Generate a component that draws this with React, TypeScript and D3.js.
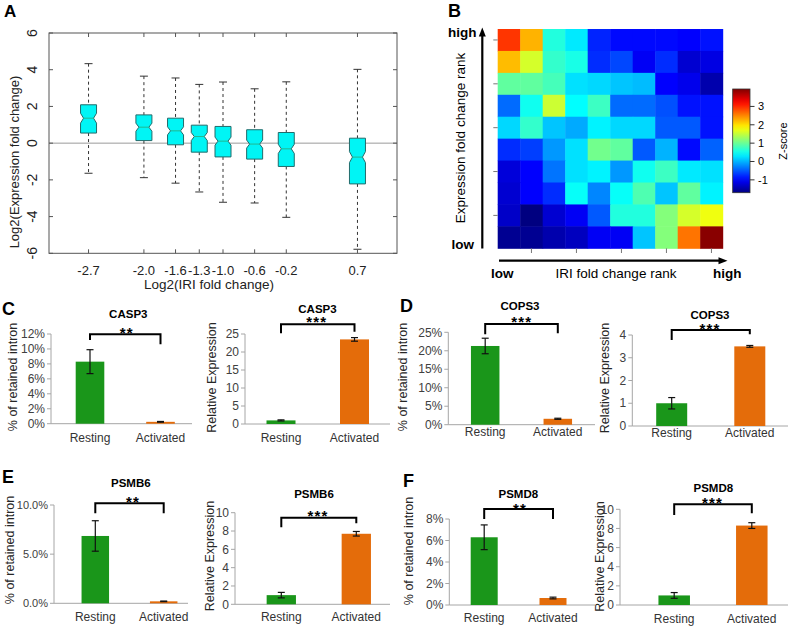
import React from "react";
import * as d3 from "d3";

const FONT = "'Liberation Sans', Arial, Helvetica, sans-serif";

// ---------- Panel A data ----------
const iriLabels = ["-2.7", "-2.0", "-1.6", "-1.3", "-1.0", "-0.6", "-0.2", "0.7"];
const iriValues = [-2.7, -2.0, -1.6, -1.3, -1.0, -0.6, -0.2, 0.7];
const whiskerLow = [-1.64, -1.88, -2.18, -2.66, -3.22, -3.26, -4.04, -5.78];
const boxQ1 = [0.55, 0.14, -0.09, -0.49, -0.75, -0.87, -1.27, -2.22];
const boxMedian = [1.36, 0.87, 0.67, 0.36, 0.11, -0.05, -0.31, -0.76];
const boxQ3 = [2.09, 1.54, 1.36, 0.98, 0.91, 0.73, 0.58, 0.27];
const whiskerHigh = [4.33, 3.65, 3.55, 3.2, 3.33, 2.96, 3.34, 4.02];
const notchHalf = [0.27, 0.22, 0.22, 0.22, 0.22, 0.22, 0.25, 0.3];
const exprTicksA = [-6, -4, -2, 0, 2, 4, 6];

// ---------- Panel B data ----------
const zScores = [
  [2.95, 2.25, 0.6, 0.3, -0.8, -0.95, -0.95, -0.95, -1.0, -0.9],
  [2.2, 1.6, 0.7, 0.55, -0.75, -0.6, -1.05, -0.75, -1.25, -1.15],
  [0.95, 0.95, 0.8, 0.25, 0.2, 0.1, 0.05, -1.0, -1.1, -1.45],
  [-0.4, 0.5, 1.55, 0.42, 0.75, -0.4, -0.4, -0.55, -0.9, -0.9],
  [0.2, 0.7, 0.1, -0.05, 0.35, 0.2, 0.2, -0.5, -0.5, -0.9],
  [-0.75, -0.65, -0.15, 0.25, 1.05, 0.95, -0.5, 0.0, -0.95, -0.45],
  [-1.2, -1.0, -0.35, 0.25, 0.35, -0.15, 0.5, 0.75, 0.3, 0.25],
  [-1.25, -1.0, -0.75, 0.45, -0.25, 0.45, 0.85, 0.1, 0.95, 0.35],
  [-1.3, -1.7, -1.25, -1.05, -0.5, 0.6, 0.6, 1.15, 1.6, 1.75],
  [-1.6, -1.6, -1.45, -1.35, -1.05, -1.05, 0.1, 1.15, 2.6, 3.9],
];
const zDomain = [-1.7, 3.95];
const zTicks = [-1, 0, 1, 2, 3];

// ---------- Bar panels data ----------
const conditions = ["Resting", "Activated"];
const genes = ["CASP3", "COPS3", "PSMB6", "PSMD8"];
const intronMean = [[8.3, 0.25], [21.3, 1.6], [6.85, 0.2], [6.3, 0.65]];
const intronErr = [[1.6, 0.05], [2.1, 0.15], [1.55, 0.03], [1.15, 0.08]];
const exprMean = [[1.0, 23.5], [1.0, 3.5], [1.0, 7.7], [1.0, 8.3]];
const exprErr = [[0.15, 0.5], [0.25, 0.04], [0.3, 0.25], [0.3, 0.3]];
const intronSig = ["**", "***", "**", "**"];
const exprSig = ["***", "***", "***", "***"];
const intronTickMax = [12, 25, 10, 8];
const intronTickStep = [2, 5, 5, 2];
const intronFormat = [".0%", ".0%", ".1%", ".0%"];
const exprTickMax = [25, 4, 10, 10];
const exprTickStep = [5, 1, 2, 2];

// ---------- layout (positions only) ----------
const subLayouts = [
  { gene: 0, kind: "intron", ax: 51, y0: 423.7, yTop: 334, axEnd: 192, c: [90, 160.5], bw: 28.6, title: [128.3, 318.3], sig: [126.7, 329.5], br: 334.3, legs: [340, 344.3], yl: [17, 377], xlb: 442, tf: 12 },
  { gene: 0, kind: "expr", ax: 245, y0: 424, yTop: 334, axEnd: 390, c: [281, 354.5], bw: 29, title: [317.5, 312.5], sig: [316.7, 318.5], br: 324.3, legs: [333.3, 331.7], yl: [215.5, 377.5], xlb: 442, tf: 12 },
  { gene: 1, kind: "intron", ax: 448.3, y0: 424.7, yTop: 332.3, axEnd: 595, c: [485.2, 557.8], bw: 28.5, title: [520, 310], sig: [521.7, 318], br: 324, legs: [334.3, 333.3], yl: [406.5, 377], xlb: 436, tf: 12 },
  { gene: 1, kind: "expr", ax: 632.3, y0: 426, yTop: 335, axEnd: 788, c: [671.7, 749.8], bw: 31, title: [710, 318.5], sig: [710, 325], br: 330, legs: [340, 334.3], yl: [608.5, 378], xlb: 437, tf: 12 },
  { gene: 2, kind: "intron", ax: 54, y0: 603.3, yTop: 505, axEnd: 188, c: [95.3, 163.7], bw: 27.5, title: [130.8, 487.3], sig: [133, 498.3], br: 503.3, legs: [513.3, 513.3], yl: [14, 550], xlb: 621.3, tf: 11 },
  { gene: 2, kind: "expr", ax: 235, y0: 604.3, yTop: 512.7, axEnd: 390, c: [281.3, 356.3], bw: 29.3, title: [314, 498.3], sig: [318, 512.2], br: 517.7, legs: [527.3, 523.3], yl: [214, 556], xlb: 621.3, tf: 12 },
  { gene: 3, kind: "intron", ax: 449.3, y0: 605, yTop: 519, axEnd: 595, c: [484.2, 553], bw: 27, title: [518.3, 497.8], sig: [520, 505], br: 509, legs: [519, 519], yl: [412.5, 551], xlb: 622, tf: 12 },
  { gene: 3, kind: "expr", ax: 620, y0: 605, yTop: 509.3, axEnd: 788, c: [674.2, 751.8], bw: 31.5, title: [713.3, 491.7], sig: [712.5, 499.5], br: 504.3, legs: [515, 513.3], yl: [603.5, 556.5], xlb: 622.5, tf: 12 },
];

const GREEN = "#1a961a";
const ORANGE = "#e46c0a";

function jet(t: number) {
  const c = (v: number) => Math.max(0, Math.min(1, v));
  const r = c(1.5 - Math.abs(4 * t - 3));
  const g = c(1.5 - Math.abs(4 * t - 2));
  const b = c(1.5 - Math.abs(4 * t - 1));
  return d3.rgb(r * 255, g * 255, b * 255).formatHex();
}

function PanelA() {
  const x = d3.scaleLinear().domain([-3.2, 1.2]).range([49, 397]);
  const y = d3.scaleLinear().domain([-6, 6]).range([253.3, 33]);
  const hw = 8;
  const inset = 3;
  const [x0, x1] = x.range();
  const [yb, yt] = y.range();
  return (
    <g fontFamily={FONT}>
      <text x={4} y={16.7} fontSize={17} fontWeight="bold">A</text>
      <line x1={x0} x2={x1} y1={y(0)} y2={y(0)} stroke="#9a9a9a" strokeWidth={1} />
      {iriValues.map((v, i) => {
        const cx = x(v);
        const q1 = y(boxQ1[i]), q3 = y(boxQ3[i]), m = y(boxMedian[i]);
        const nt = y(boxMedian[i] + notchHalf[i]), nb = y(boxMedian[i] - notchHalf[i]);
        const path = `M${cx - hw},${q3}L${cx + hw},${q3}L${cx + hw},${nt}L${cx + hw - inset},${m}L${cx + hw},${nb}L${cx + hw},${q1}L${cx - hw},${q1}L${cx - hw},${nb}L${cx - hw + inset},${m}L${cx - hw},${nt}Z`;
        return (
          <g key={i}>
            <line x1={cx} x2={cx} y1={y(whiskerHigh[i])} y2={q3} stroke="#333" strokeDasharray="3,3" />
            <line x1={cx} x2={cx} y1={q1} y2={y(whiskerLow[i])} stroke="#333" strokeDasharray="3,3" />
            <line x1={cx - 4} x2={cx + 4} y1={y(whiskerHigh[i])} y2={y(whiskerHigh[i])} stroke="#333" />
            <line x1={cx - 4} x2={cx + 4} y1={y(whiskerLow[i])} y2={y(whiskerLow[i])} stroke="#333" />
            <path d={path} fill="#00f5f5" stroke="#236b6b" strokeWidth={1} />
            <line x1={cx - hw + inset} x2={cx + hw - inset} y1={m} y2={m} stroke="#20b890" strokeWidth={1} />
          </g>
        );
      })}
      <rect x={x0} y={yt} width={x1 - x0} height={yb - yt} fill="none" stroke="#555" strokeWidth={1} />
      {exprTicksA.map((t) => (
        <g key={t}>
          <line x1={x0} x2={x0 + 4} y1={y(t)} y2={y(t)} stroke="#555" />
          <line x1={x1} x2={x1 - 4} y1={y(t)} y2={y(t)} stroke="#555" />
          <text transform={`translate(37.3,${y(t)}) rotate(-90)`} textAnchor="middle" fontSize={14} fill="#222">{t}</text>
        </g>
      ))}
      {iriValues.map((v, i) => (
        <g key={"xt" + i}>
          <line x1={x(v)} x2={x(v)} y1={yb} y2={yb - 4} stroke="#555" />
          <line x1={x(v)} x2={x(v)} y1={yt} y2={yt + 4} stroke="#555" />
          <text x={x(v)} y={275} textAnchor="middle" fontSize={13} fill="#222">{iriLabels[i]}</text>
        </g>
      ))}
      <text x={209} y={289} textAnchor="middle" fontSize={13.5} fill="#222">Log2(IRI fold change)</text>
      <text transform="translate(19.3,162) rotate(-90)" textAnchor="middle" fontSize={13} fill="#222">Log2(Expression fold change)</text>
    </g>
  );
}

function PanelB() {
  const idx = d3.range(10);
  const x = d3.scaleBand<number>().domain(idx).range([497.7, 722.7]);
  const y = d3.scaleBand<number>().domain(idx).range([29, 248.3]);
  const color = d3.scaleSequential(jet).domain(zDomain as [number, number]);
  const cb = d3.scaleLinear().domain(zDomain).range([192.7, 89]);
  const stops = d3.range(0, 1.0001, 0.05);
  return (
    <g fontFamily={FONT}>
      <defs>
        <linearGradient id="jetGrad" x1="0" y1="1" x2="0" y2="0">
          {stops.map((s) => (
            <stop key={s} offset={`${s * 100}%`} stopColor={jet(s)} />
          ))}
        </linearGradient>
      </defs>
      <text x={448} y={17.3} fontSize={18} fontWeight="bold">B</text>
      {zScores.map((row, r) =>
        row.map((v, c) => (
          <rect key={r + "-" + c} x={x(c)} y={y(r)} width={x.bandwidth() + 0.5} height={y.bandwidth() + 0.5} fill={color(v)} />
        ))
      )}
      {[0, 2, 4, 6, 8].map((r) => (
        <line key={"lt" + r} x1={493.3} x2={497.7} y1={y(r)! + y.bandwidth() / 2} y2={y(r)! + y.bandwidth() / 2} stroke="#777" />
      ))}
      {[1, 3, 5, 7, 9].map((c) => (
        <line key={"bt" + c} x1={x(c)! + x.bandwidth() / 2} x2={x(c)! + x.bandwidth() / 2} y1={248.3} y2={253} stroke="#777" />
      ))}
      <line x1={482.3} x2={482.3} y1={248.5} y2={34} stroke="#000" strokeWidth={2.2} />
      <path d="M482.3,27.5L478.8,36.5L485.8,36.5Z" fill="#000" />
      <line x1={499} x2={720} y1={260.7} y2={260.7} stroke="#000" strokeWidth={2.2} />
      <path d="M727.5,260.7L718.5,257.2L718.5,264.2Z" fill="#000" />
      <text x={448} y={37} fontSize={13.5} fontWeight="bold">high</text>
      <text x={451.5} y={249} fontSize={13.5} fontWeight="bold">low</text>
      <text x={491} y={277.5} fontSize={13.5} fontWeight="bold">low</text>
      <text x={713} y={277.5} fontSize={13.5} fontWeight="bold">high</text>
      <text x={616} y={278} textAnchor="middle" fontSize={13.5}>IRI fold change rank</text>
      <text transform="translate(464.7,138) rotate(-90)" textAnchor="middle" fontSize={13.5}>Expression fold change rank</text>
      <rect x={732.7} y={89} width={17.3} height={103.7} fill="url(#jetGrad)" stroke="#333" strokeWidth={0.8} />
      {zTicks.map((t) => (
        <g key={"cb" + t}>
          <line x1={750} x2={754.5} y1={cb(t)} y2={cb(t)} stroke="#333" />
          <text x={758} y={cb(t)} dy="0.35em" fontSize={11}>{t}</text>
        </g>
      ))}
      <text transform="translate(787,141) rotate(-90)" textAnchor="middle" fontSize={11}>Z-score</text>
    </g>
  );
}

function BarSub({ L }: { L: any }) {
  const g = L.gene;
  const isIntron = L.kind === "intron";
  const means = isIntron ? intronMean[g] : exprMean[g];
  const errs = isIntron ? intronErr[g] : exprErr[g];
  const tMax = isIntron ? intronTickMax[g] : exprTickMax[g];
  const tStep = isIntron ? intronTickStep[g] : exprTickStep[g];
  const ticks = d3.range(0, tMax + tStep / 2, tStep);
  const y = d3.scaleLinear().domain([0, tMax]).range([L.y0, L.yTop]);
  const x = d3.scalePoint<string>().domain(conditions).range(L.c);
  const fmt = isIntron ? (v: number) => d3.format(intronFormat[g])(v / 100) : d3.format("d");
  const sig = isIntron ? intronSig[g] : exprSig[g];
  const xa = x(conditions[0])!, xb = x(conditions[1])!;
  return (
    <g fontFamily={FONT}>
      <line x1={L.ax} x2={L.ax} y1={L.y0} y2={L.yTop} stroke="#a6a6a6" />
      <line x1={L.ax} x2={L.axEnd} y1={L.y0} y2={L.y0} stroke="#a6a6a6" />
      {ticks.map((t) => (
        <g key={t}>
          <line x1={L.ax - 4} x2={L.ax} y1={y(t)} y2={y(t)} stroke="#a6a6a6" />
          <text x={L.ax - 6} y={y(t)} dy="0.35em" textAnchor="end" fontSize={L.tf} fill="#404040">{fmt(t)}</text>
        </g>
      ))}
      {conditions.map((c, i) => {
        const cx = x(c)!;
        const top = y(means[i]);
        const eHi = y(means[i] + errs[i]);
        const eLo = y(Math.max(0, means[i] - errs[i]));
        return (
          <g key={c}>
            <rect x={cx - L.bw / 2} y={top} width={L.bw} height={L.y0 - top} fill={i === 0 ? GREEN : ORANGE} />
            <line x1={cx} x2={cx} y1={eHi} y2={eLo} stroke="#111" strokeWidth={1.2} />
            <line x1={cx - 3.5} x2={cx + 3.5} y1={eHi} y2={eHi} stroke="#111" strokeWidth={1.2} />
            <line x1={cx - 3.5} x2={cx + 3.5} y1={eLo} y2={eLo} stroke="#111" strokeWidth={1.2} />
            <text x={cx} y={L.xlb} textAnchor="middle" fontSize={12} fill="#333">{c}</text>
          </g>
        );
      })}
      <path d={`M${xa},${L.legs[0]}L${xa},${L.br}L${xb},${L.br}L${xb},${L.legs[1]}`} fill="none" stroke="#000" strokeWidth={2} />
      <text x={L.title[0]} y={L.title[1]} textAnchor="middle" fontSize={11.5} fontWeight="bold">{genes[g]}</text>
      <text x={L.sig[0]} y={L.sig[1] + 8.5} textAnchor="middle" fontSize={15} fontWeight="bold" letterSpacing={1.2}>{sig}</text>
      <text transform={`translate(${L.yl[0]},${L.yl[1]}) rotate(-90)`} textAnchor="middle" fontSize={12.5} fill="#262626">
        {isIntron ? "% of retained intron" : "Relative Expression"}
      </text>
    </g>
  );
}

export default function App() {
  return (
    <svg width={796} height={629} style={{ position: "absolute", left: 0, top: 0, background: "#fff" }}>
      <rect width={796} height={629} fill="#fff" />
      <PanelA />
      <PanelB />
      {subLayouts.map((L, i) => (
        <BarSub key={i} L={L} />
      ))}
      <g fontFamily={FONT} fontWeight="bold" fontSize={18}>
        <text x={2} y={315}>C</text>
        <text x={400} y={312.3}>D</text>
        <text x={2} y={483.3}>E</text>
        <text x={403} y={487.3}>F</text>
      </g>
    </svg>
  );
}
